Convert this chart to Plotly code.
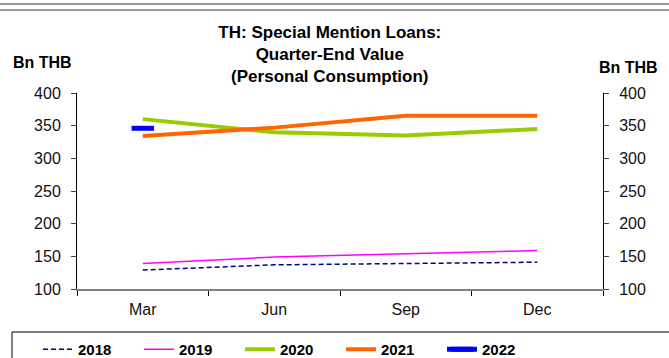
import plotly.graph_objects as go

categories = ["Mar", "Jun", "Sep", "Dec"]
y2018 = [129, 137, 139, 141]
y2019 = [139, 149, 154, 159]
y2020 = [360, 340, 335, 345]
y2021 = [334, 347, 365, 365]
y2022 = [346]

W, H = 669, 358
L, R, T, B = 77, 66, 93, 69
pw, ph = W - L - R, H - T - B

def px_x(v):
    return (v - L) / pw

def px_y(v):
    return (H - B - v) / ph

FONT = "Liberation Sans, Arial"

fig = go.Figure()
fig.add_trace(go.Scatter(x=categories, y=y2018, name="2018", mode="lines",
                         line=dict(color="#000080", width=1.5, dash="5px,3px")))
fig.add_trace(go.Scatter(x=categories, y=y2019, name="2019", mode="lines",
                         line=dict(color="#FF00FF", width=1.5)))
fig.add_trace(go.Scatter(x=categories, y=y2020, name="2020", mode="lines",
                         line=dict(color="#99CC00", width=4)))
fig.add_trace(go.Scatter(x=categories, y=y2021, name="2021", mode="lines",
                         line=dict(color="#FF6600", width=4)))
fig.add_trace(go.Scatter(x=categories[:1], y=y2022, name="2022", mode="lines+markers",
                         line=dict(color="#0000FF", width=5),
                         marker=dict(symbol="line-ew", size=16,
                                     line=dict(color="#0000FF", width=5))))
fig.add_trace(go.Scatter(x=categories, y=[None] * 4, yaxis="y2", showlegend=False,
                         hoverinfo="skip"))

axis_font = dict(family=FONT, size=16, color="#111")
fig.update_layout(
    width=W, height=H,
    margin=dict(l=L, r=R, t=T, b=B, autoexpand=False),
    plot_bgcolor="white", paper_bgcolor="white",
    font=dict(family=FONT, color="#000"),
    title=dict(text="<b>TH: Special Mention Loans:<br>Quarter-End Value<br>(Personal Consumption)</b>",
               x=0.493, xanchor="center", y=1 - 38 / H, yanchor="top",
               font=dict(size=17, family=FONT, color="#000")),
    xaxis=dict(type="category", range=[-0.5, 3.5], showline=True, linecolor="#808080",
               linewidth=2, ticks="outside", tickson="boundaries", ticklen=5,
               tickcolor="#000", showgrid=False, zeroline=False, tickfont=axis_font,
               ticklabelstandoff=5),
    yaxis=dict(range=[100, 400], dtick=50, showline=True, linecolor="#000", linewidth=1,
               ticks="outside", ticklen=5, showgrid=False, zeroline=False,
               tickfont=axis_font, ticklabelstandoff=7),
    yaxis2=dict(range=[100, 400], dtick=50, overlaying="y", side="right", showline=True,
                linecolor="#000", linewidth=1, ticks="outside", ticklen=5,
                showgrid=False, zeroline=False, tickfont=axis_font, ticklabelstandoff=7),
    legend=dict(orientation="h", x=px_x(38), xanchor="left", y=px_y(333), yanchor="top",
                font=dict(size=15, family=FONT, color="#000", weight="bold"),
                entrywidth=56, borderwidth=0, bgcolor="rgba(0,0,0,0)"),
    showlegend=True,
)

fig.add_shape(type="rect", xref="paper", yref="paper",
              x0=px_x(12), x1=px_x(680), y0=px_y(332), y1=px_y(365),
              line=dict(color="#000", width=1), fillcolor="rgba(0,0,0,0)", layer="below")
fig.add_shape(type="line", xref="paper", yref="paper",
              x0=px_x(0), x1=px_x(669), y0=px_y(4), y1=px_y(4),
              line=dict(color="#333", width=1))
fig.add_shape(type="line", xref="paper", yref="paper",
              x0=px_x(0), x1=px_x(669), y0=px_y(10), y1=px_y(10),
              line=dict(color="#333", width=1))

fig.add_annotation(text="<b>Bn THB</b>", xref="paper", yref="paper",
                   x=px_x(42), y=px_y(62), xanchor="center", yanchor="middle",
                   showarrow=False, font=dict(size=16, color="#000"))
fig.add_annotation(text="<b>Bn THB</b>", xref="paper", yref="paper",
                   x=px_x(628), y=px_y(67), xanchor="center", yanchor="middle",
                   showarrow=False, font=dict(size=16, color="#000"))

fig.write_html("out.html", config={"displayModeBar": False},
               post_script="document.body.style.margin='0';")
